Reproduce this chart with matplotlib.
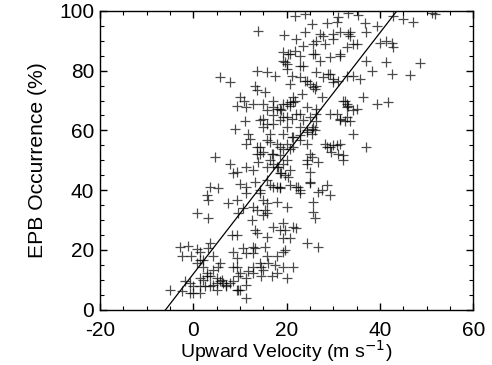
import numpy as np
import matplotlib.pyplot as plt
from matplotlib.ticker import MultipleLocator

plt.rcParams['font.family'] = ['Liberation Sans', 'DejaVu Sans']
plt.rcParams['axes.unicode_minus'] = False

# upward drift velocity (m/s) and EPB occurrence (%)
vel = [21.8, 23.9, 31.1, 33.2, 35.4, 42.9, 45.0, 47.1, 51.1, 51.8,
       25.4, 28.6, 30.7, 36.8, 39.3, 13.9, 19.4, 23.9, 27.1, 31.4,
       33.2, 33.6, 37.1, 30.0, 28.2, 34.3, 41.4, 40.0, 42.5, 22.1,
       23.6, 25.7, 26.1, 31.4, 19.3, 20.4, 21.8, 42.9, 37.1, 41.4,
       19.6, 20.0, 22.9, 48.6, 13.6, 15.7, 17.5, 5.7, 7.9, 21.1,
       23.9, 26.4, 28.9, 30.0, 32.9, 34.3, 35.7, 38.2, 42.5, 46.4,
       26.1, 25.0, 30.0, 13.2, 13.6, 15.4, 20.7, 21.4, 23.2, 36.4,
       39.3, 41.8, 32.5, 32.9, 33.2, 35.0, 10.0, 10.9, 9.3, 11.4,
       15.0, 17.1, 18.6, 20.0, 20.7, 21.4, 22.1, 24.3, 26.4, 27.5,
       15.7, 11.1, 8.9, 15.0, 15.7, 17.1, 19.3, 20.0, 21.1, 22.9,
       24.3, 25.7, 26.4, 31.4, 32.5, 33.6, 30.7, 34.3, 37.1, 11.8,
       12.1, 11.4, 13.6, 16.4, 17.9, 19.3, 21.1, 21.4, 22.9, 24.3,
       25.4, 26.1, 28.2, 29.3, 29.6, 30.7, 31.1, 32.1, 32.1, 14.3,
       15.0, 16.8, 18.6, 19.3, 20.0, 25.4, 4.6, 7.9, 8.6, 9.3,
       12.9, 13.9, 15.7, 17.1, 18.2, 18.9, 19.6, 20.7, 24.3, 25.0,
       26.8, 10.0, 11.4, 13.2, 14.3, 16.4, 17.9, 18.6, 20.7, 22.5,
       22.9, 25.0, 26.8, 28.6, 29.3, 27.5, 3.6, 5.4, 2.9, 3.2,
       7.5, 9.3, 11.4, 15.0, 15.7, 15.4, 17.9, 20.0, 25.7, 25.7,
       26.1, 0.7, 3.2, 9.6, 10.7, 12.9, 13.6, 15.7, 15.0, 12.5,
       13.2, 17.1, 19.3, 19.6, 21.4, 22.1, 8.2, 9.3, 13.6, 15.7,
       18.6, 19.3, 20.7, 24.3, 26.8, -2.9, -1.1, 0.7, -0.4, -2.3,
       1.4, 3.2, 3.6, 1.4, 0.7, 10.7, 12.9, 13.2, 15.4, 11.4,
       8.6, 9.3, 19.3, 19.6, 17.9, 2.1, 2.9, 5.7, 5.4, 4.3,
       8.6, 9.3, 11.8, 14.3, 14.6, 15.0, 16.1, 17.5, 19.3, 21.4,
       -1.8, -0.7, 0.0, 1.4, 2.1, 2.5, 2.9, 3.6, 5.0, 5.7,
       6.4, 7.1, 4.3, 8.6, 9.6, 11.4, 12.9, 14.6, 16.8, 20.0,
       -5.0, -2.3, -0.7, 0.0, 1.4, 5.0, 7.1, 9.3, 10.0, 11.4,
       9.6, 11.4,
       # dense core around the fit line
       17.1, 18.6, 20.0, 21.4, 22.9, 24.3, 25.4, 20.7, 16.4, 17.9,
       19.3, 18.6, 20.4, 15.7, 17.1, 14.3, 18.6, 22.1, 22.9, 25.0,
       19.3, 20.7, 21.8, 17.9, 18.9, 25.7, 26.4, 24.3, 27.9, 29.3,
       31.1, 22.9, 23.6, 27.1, 29.3, 31.4, 32.9, 35.0, 26.4, 27.9,
       30.0, 33.6, 20.7, 19.3, 20.0, 22.9, 25.7, 31.4, 32.9, 34.3,
       32.1, 32.9, 29.3, 26.4, 28.6, 30.0, 31.4, 24.3, 25.0, 14.3,
       15.0, 12.9, 17.1, 11.4, 13.6, 14.3, 15.7, 16.4, 17.1, 18.6,
       20.0, 22.9, 23.6, 25.0,
       # low-velocity cluster
       5.0, 6.1, 7.9, 3.6, 1.4, 10.0, 12.9, 15.7, 17.9, 2.1,
       4.3, 12.9]
occ = [98.3, 98.9, 98.0, 99.4, 98.7, 98.3, 97.2, 96.4, 99.4, 99.1,
       95.6, 96.1, 96.4, 95.8, 95.0, 93.3, 91.9, 92.8, 92.2, 92.8,
       92.2, 91.7, 92.8, 90.6, 88.9, 88.9, 90.0, 89.4, 89.4, 90.6,
       88.3, 88.9, 85.6, 85.0, 86.1, 85.6, 86.7, 87.8, 83.3, 82.8,
       82.8, 80.6, 81.7, 82.4, 80.0, 79.4, 78.3, 77.8, 76.3, 78.3,
       76.7, 79.4, 78.9, 77.2, 78.3, 78.3, 77.2, 80.0, 78.9, 78.7,
       73.9, 75.6, 76.1, 74.7, 73.6, 72.8, 75.6, 71.1, 72.2, 71.1,
       68.9, 69.4, 70.0, 67.8, 68.3, 67.2, 71.1, 69.8, 68.3, 67.8,
       68.9, 67.8, 67.2, 68.9, 68.0, 69.4, 65.6, 67.8, 67.2, 71.1,
       66.7, 63.3, 60.6, 63.9, 62.2, 65.0, 64.4, 61.1, 63.9, 61.1,
       59.4, 61.1, 63.3, 63.9, 63.3, 63.3, 65.6, 58.9, 54.4, 58.9,
       57.2, 55.6, 54.4, 56.1, 55.6, 58.9, 57.8, 54.4, 56.7, 55.6,
       58.9, 60.0, 55.6, 54.4, 52.8, 55.0, 52.2, 51.7, 50.0, 52.2,
       52.8, 52.2, 51.7, 53.9, 50.0, 51.1, 51.1, 48.9, 45.6, 46.1,
       46.7, 49.4, 47.8, 48.9, 47.8, 45.6, 45.0, 46.7, 48.9, 46.1,
       49.4, 42.2, 41.1, 42.8, 40.0, 41.7, 41.1, 40.6, 41.7, 41.1,
       40.0, 42.8, 39.4, 41.7, 38.3, 40.0, 41.1, 40.6, 38.3, 36.7,
       35.6, 36.7, 38.9, 36.7, 35.6, 33.3, 36.1, 34.4, 36.1, 32.8,
       30.6, 32.2, 30.6, 32.2, 33.9, 34.4, 33.3, 32.2, 31.7, 30.0,
       26.7, 27.8, 28.9, 26.7, 27.8, 27.2, 25.0, 25.0, 25.6, 24.4,
       26.7, 23.9, 23.9, 22.2, 21.1, 21.1, 21.3, 20.2, 17.8, 17.8,
       19.4, 20.6, 22.2, 16.7, 15.6, 20.6, 21.1, 20.6, 21.1, 18.9,
       19.4, 17.2, 19.4, 20.0, 17.8, 14.4, 12.2, 15.6, 14.4, 13.3,
       14.4, 14.4, 12.8, 15.6, 14.4, 13.3, 15.6, 15.0, 14.4, 14.4,
       9.4, 8.9, 7.8, 10.6, 10.0, 7.8, 11.1, 11.3, 10.6, 9.4,
       8.9, 8.3, 8.3, 9.4, 11.1, 10.6, 12.2, 11.1, 11.1, 10.6,
       6.7, 6.1, 5.6, 5.6, 5.6, 6.7, 7.8, 6.7, 6.7, 8.3,
       6.7, 3.7,
       52.2, 54.5, 55.6, 57.8, 58.4, 60.0, 60.6, 53.9, 50.0, 47.8,
       48.9, 45.6, 44.5, 43.4, 41.1, 38.9, 41.1, 41.1, 38.9, 42.3,
       68.9, 69.5, 70.0, 67.3, 66.7, 74.5, 75.0, 76.7, 77.8, 78.9,
       76.7, 77.8, 81.7, 83.4, 84.5, 85.6, 87.8, 88.9, 90.0, 91.7,
       92.3, 92.8, 85.6, 83.3, 82.3, 85.0, 85.6, 63.4, 64.5, 66.7,
       70.0, 68.9, 65.6, 65.6, 54.5, 55.0, 55.6, 50.0, 52.2, 63.4,
       61.1, 68.9, 70.0, 47.8, 52.2, 54.5, 56.7, 58.9, 62.3, 63.4,
       64.5, 65.6, 63.4, 64.5,
       8.9, 10.0, 8.9, 7.8, 7.8, 12.2, 14.4, 17.8, 12.2, 16.7,
       17.8, 18.9]

# linear fit drawn in the figure
fit_slope = 2.02
fit_icpt = 11.9

fig = plt.figure(figsize=(4.92, 3.65), dpi=100)
ax = fig.add_axes([0.203, 0.152, 0.759, 0.818])

ax.plot(vel, occ, '+', color='black', markersize=7.5, markeredgewidth=0.9, alpha=0.7)

xf = np.array([-20, 60])
ax.plot(xf, fit_icpt + fit_slope * xf, color='black', linewidth=0.9)

ax.set_xlim(-20, 60)
ax.set_ylim(0, 100)
ax.xaxis.set_major_locator(MultipleLocator(20))
ax.xaxis.set_minor_locator(MultipleLocator(5))
ax.yaxis.set_major_locator(MultipleLocator(20))
ax.yaxis.set_minor_locator(MultipleLocator(5))
ax.tick_params(which='both', direction='in', top=True, right=True, labelsize=15)
ax.tick_params(which='major', length=5, width=1)
ax.tick_params(which='minor', length=3, width=0.8)
ax.tick_params(axis='x', which='major', pad=8)
ax.tick_params(axis='y', which='major', pad=4)
for s in ax.spines.values():
    s.set_linewidth(1)

ax.set_xlabel('Upward Velocity (m s$^{-1}$)', fontsize=14, labelpad=-1)
ax.set_ylabel('EPB Occurrence (%)', fontsize=15.2, labelpad=9)

fig.savefig('out.png', dpi=100)
